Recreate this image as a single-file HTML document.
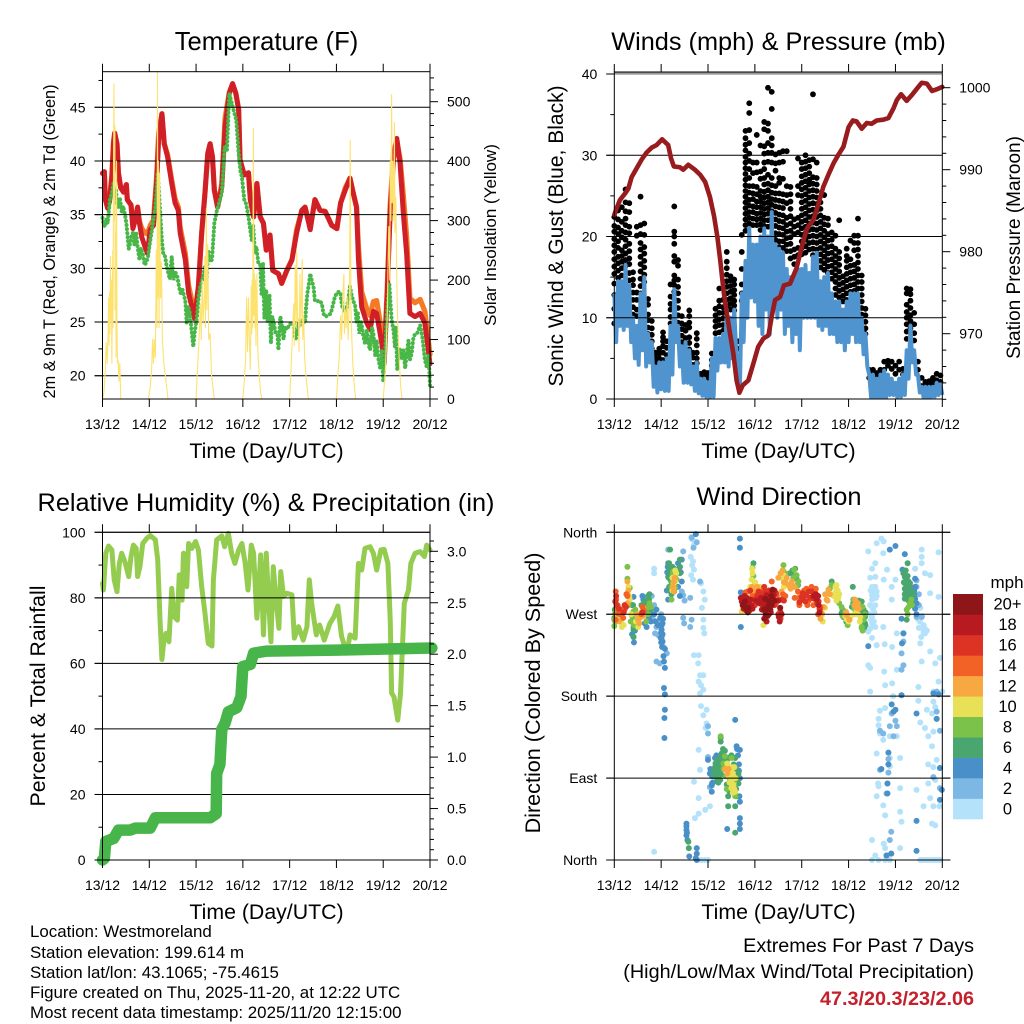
<!DOCTYPE html>
<html lang="en">
<head>
<meta charset="utf-8">
<title>Weather station charts</title>
<style>
html,body{margin:0;padding:0;background:#fff;width:1024px;height:1024px;overflow:hidden}
svg{display:block;font-family:"Liberation Sans",Arial,sans-serif;fill:#000}
text{fill:#000}
</style>
</head>
<body>
<svg id="figure" xmlns="http://www.w3.org/2000/svg" width="1024" height="1024" viewBox="0 0 1024 1024">
<rect x="0" y="0" width="1024" height="1024" fill="#fff"/>
<g id="panel-temp"></g>
<g id="panel-wind"></g>
<g id="panel-rh"></g>
<g id="panel-dir"></g>

<text x="266.5" y="50" font-size="25.6" text-anchor="middle">Temperature (F)</text>
<text x="778.5" y="50" font-size="25.3" text-anchor="middle">Winds (mph) &amp; Pressure (mb)</text>
<text x="266" y="511" font-size="25.3" text-anchor="middle">Relative Humidity (%) &amp; Precipitation (in)</text>
<text x="779" y="505" font-size="25.4" text-anchor="middle">Wind Direction</text>

<text x="266.5" y="458" font-size="21.3" text-anchor="middle">Time (Day/UTC)</text>
<text x="778.5" y="458" font-size="21.3" text-anchor="middle">Time (Day/UTC)</text>
<text x="266.5" y="919" font-size="21.3" text-anchor="middle">Time (Day/UTC)</text>
<text x="778.5" y="919" font-size="21.3" text-anchor="middle">Time (Day/UTC)</text>

<text transform="translate(55,241.5) rotate(-90)" font-size="16.3" text-anchor="middle">2m &amp; 9m T (Red, Orange) &amp; 2m Td (Green)</text>
<text transform="translate(496,235) rotate(-90)" font-size="17" text-anchor="middle">Solar Insolation (Yellow)</text>
<text transform="translate(563,236) rotate(-90)" font-size="21" text-anchor="middle">Sonic Wind &amp; Gust (Blue, Black)</text>
<text transform="translate(1020,247.5) rotate(-90)" font-size="19" text-anchor="middle">Station Pressure (Maroon)</text>
<text transform="translate(45,696) rotate(-90)" font-size="21.3" text-anchor="middle">Percent &amp; Total Rainfall</text>
<text transform="translate(540,693) rotate(-90)" font-size="21.6" text-anchor="middle">Direction (Colored By Speed)</text>

<g id="colorbar">
<text x="1007" y="588" font-size="17" text-anchor="middle">mph</text>
</g>

<g font-size="16.9">
<text x="30" y="937">Location: Westmoreland</text>
<text x="30" y="958">Station elevation: 199.614 m</text>
<text x="30" y="978">Station lat/lon: 43.1065; -75.4615</text>
<text x="30" y="998">Figure created on Thu, 2025-11-20, at 12:22 UTC</text>
<text x="30" y="1018">Most recent data timestamp: 2025/11/20 12:15:00</text>
</g>
<g font-size="19.8" text-anchor="end">
<text x="974" y="952">Extremes For Past 7 Days</text>
<text x="974" y="978">(High/Low/Max Wind/Total Precipitation)</text>
<text x="974" y="1005" font-weight="bold" style="fill:#c5202b">47.3/20.3/23/2.06</text>
</g>
</svg>
<script>
// ---- shared axis labels ----
const dayLabels = ['13/12','14/12','15/12','16/12','17/12','18/12','19/12','20/12'];
const compassLabels = ['North','East','South','West','North'];
const compassDegrees = [0,90,180,270,360];

// ---- temperature panel ----
const tempTimes = [0,.04,.06,.11,.15,.2,.235,.26,.31,.34,.39,.45,.51,.53,.61,.65,.7,.75,.79,.84,.91,.96,1.02,1.09,1.16,1.2,1.27,1.32,1.39,1.48,1.55,1.62,1.66,1.77,1.84,1.91,1.97,2.05,2.12,2.19,2.25,2.3,2.35,2.39,2.46,2.55,2.62,2.71,2.78,2.85,2.91,2.94,3.03,3.12,3.16,3.23,3.3,3.37,3.44,3.5,3.58,3.64,3.76,3.83,3.94,4.05,4.15,4.26,4.33,4.44,4.54,4.65,4.76,4.9,5.01,5.09,5.19,5.29,5.36,5.43,5.47,5.54,5.65,5.72,5.79,5.86,5.97,6.02,6.08,6.15,6.22,6.29,6.36,6.43,6.5,6.57,6.68,6.79,6.89,7];
const temp2m = [38.85,39,36.4,35.6,36.2,38.5,41.6,42.6,41.6,38.9,37.5,37.1,37.8,36.4,35.9,33.7,34.5,35.7,34.2,32.9,32,31.4,33.6,34,38.2,42,44.4,41.6,40.4,37.9,36.1,35.4,33.3,30.8,27.7,26.4,25.3,28.3,33.3,37,40.7,41.6,40.4,37.3,35.7,37.6,43.2,46.3,47.2,46.3,44.8,40.1,38.7,38.9,36.4,34.8,37.9,34.8,34.2,31.7,33.1,29.8,29.5,28.6,29.8,30.8,33.3,35.4,35.7,33.6,36.4,35.4,35.3,34,33.7,36.1,37.3,38.4,37,35.7,30.8,26.4,24.9,24.3,26,25.8,23,21.1,27,35.4,40.1,42.1,39.8,35.1,31.4,25.8,25.5,25.8,24.9,21.1];
const temp9m = [38.85,39,36.6,35.8,36.4,38.7,41.8,42.6,41.6,38.9,37.5,37.1,37.8,36.4,35.9,33.9,34.7,35.7,34.4,33.7,33.3,33.2,34,34.5,38.8,42.6,44.4,41.6,40.6,38.2,36.5,35.7,33.8,31.4,28.4,27,25.6,28.3,33.3,37,40.7,41.6,40.4,37.3,35.7,37.9,44,46.4,47.2,46.3,44.8,40.1,38.7,38.9,36.4,34.8,37.9,34.8,34.2,31.7,33.1,29.8,29.5,28.6,29.8,30.8,33.6,35.4,35.7,33.8,36.4,35.4,35.3,34,33.7,36.1,37.5,38.4,37,35.7,32,27.8,26.2,25.6,26.9,27,24,22,27.5,36,40.8,41.9,40.2,36.8,33,27.2,26.8,27.1,26,22];
const dewTimes = [0,.03,.06,.09,.11,.14,.16,.2,.235,.26,.29,.31,.34,.37,.41,.44,.48,.51,.53,.56,.59,.62,.65,.68,.72,.75,.79,.82,.86,.9,.93,.97,1,1.05,1.09,1.13,1.16,1.18,1.21,1.23,1.27,1.3,1.34,1.37,1.41,1.44,1.48,1.5,1.52,1.56,1.6,1.64,1.67,1.71,1.77,1.8,1.83,1.87,1.9,1.94,1.97,2.02,2.05,2.09,2.14,2.19,2.23,2.26,2.3,2.34,2.39,2.44,2.5,2.55,2.58,2.61,2.66,2.71,2.78,2.86,2.91,2.95,2.98,3.03,3.07,3.12,3.16,3.19,3.22,3.26,3.29,3.33,3.37,3.4,3.43,3.46,3.5,3.53,3.57,3.6,3.63,3.67,3.7,3.74,3.76,3.8,3.83,3.87,3.9,3.94,4,4.08,4.12,4.15,4.19,4.22,4.26,4.33,4.35,4.38,4.41,4.44,4.47,4.51,4.54,4.57,4.64,4.69,4.72,4.76,4.82,4.88,4.92,4.97,5.03,5.08,5.12,5.16,5.2,5.25,5.29,5.33,5.36,5.4,5.43,5.46,5.49,5.53,5.57,5.61,5.65,5.69,5.72,5.76,5.79,5.83,5.86,5.9,5.94,5.97,6,6.04,6.08,6.13,6.16,6.18,6.22,6.25,6.27,6.3,6.33,6.36,6.4,6.43,6.47,6.5,6.54,6.57,6.61,6.64,6.68,6.73,6.79,6.84,6.89,6.93,6.97,7];
const dewPoint = [34.7,34,33.9,34.6,34.2,35.5,36.4,37,37.9,36.5,37.3,35.9,35.7,36.6,35.3,35.8,35,34.2,33.3,31.8,32.3,33,33.3,32.2,33.3,32,30.8,31.9,31.4,30.3,30.5,31,32,33.4,34.6,35.7,37.5,38.9,37,35.4,32.6,31.3,31.1,30.2,29.5,29,31.1,30,28.9,29.6,29.2,28.2,27.7,28,27,24.9,26.5,25.8,24.4,22.7,24,25.5,27.2,28.3,29,30.2,29.2,31.7,30.6,30.8,34.2,35.3,36.2,37,39,41.3,41,46.3,45.1,43.8,40.7,39,38.5,36.4,36,34.8,33.5,32.6,34,31.4,32,30.5,30.4,27.6,30.5,25.3,28,25,27.5,23,25.5,24.7,24,23.8,22.4,25.5,24.9,23.4,24.6,24.3,24.8,24.9,23.4,23.6,24.9,24.6,25.2,24.9,26.3,27.7,28.5,29.5,28.9,28.3,27,26.9,27,26.7,25.8,25.5,25.6,25.8,26.5,27.4,27.8,27.8,26.5,26.1,25.9,27,28.3,27.4,27,26.5,25,25.8,23.9,25,23.8,23,24.3,22.8,22.4,24.5,23.9,21.8,23.3,21.5,20.6,22.3,19.4,22,25.8,28.6,26.5,25.2,24.2,22.7,24.5,20.5,22.5,22.4,21.5,22.4,20.7,22,23.3,21.5,22.1,23.4,23.9,24,24.7,23.5,21.5,20.8,22,19];
const solarTimes = [0,.03,.06,.08,.1,.12,.13,.14,.15,.16,.17,.18,.19,.2,.21,.22,.225,.235,.245,.255,.265,.27,.28,.29,.3,.31,.32,.335,.35,.37,.39,.98,1.02,1.05,1.07,1.09,1.11,1.13,1.15,1.165,1.175,1.185,1.195,1.21,1.22,1.24,1.26,1.28,1.31,1.35,1.4,2,2.03,2.06,2.09,2.11,2.13,2.15,2.17,2.19,2.2,2.22,2.23,2.25,2.27,2.3,2.33,2.36,2.39,3,3.03,3.06,3.08,3.1,3.12,3.14,3.16,3.18,3.19,3.2,3.21,3.225,3.235,3.25,3.26,3.27,3.28,3.3,3.32,3.35,3.38,3.41,4,4.03,4.06,4.09,4.1,4.12,4.14,4.15,4.17,4.19,4.2,4.22,4.24,4.27,4.28,4.3,4.32,4.36,4.4,5,5.03,5.06,5.09,5.11,5.14,5.16,5.17,5.19,5.21,5.23,5.25,5.28,5.295,5.31,5.33,5.35,5.38,5.41,6,6.03,6.05,6.07,6.09,6.1,6.12,6.14,6.15,6.165,6.18,6.19,6.205,6.22,6.24,6.25,6.27,6.29,6.31,6.34,6.37,6.4,7];
const solarValues = [0,10,48,95,60,110,170,90,180,110,240,130,200,60,160,250,120,380,530,300,460,150,280,70,400,120,60,65,30,60,0,0,20,50,100,60,100,70,250,120,550,170,400,120,380,170,230,100,60,35,0,0,50,95,160,100,200,130,160,240,120,320,150,260,100,110,40,20,0,0,30,70,170,80,170,100,50,190,110,200,120,455,140,210,120,200,90,210,80,40,10,0,0,50,110,160,90,225,120,250,130,135,80,210,120,235,100,140,70,30,0,0,40,70,140,100,180,210,110,150,120,170,100,180,435,150,100,60,25,0,0,30,55,100,150,210,290,200,400,300,512,330,400,300,465,280,340,200,130,70,25,0,0];
const tempMajorTicks = [20,25,30,35,40,45];
const tempMinorTicks = [22.5,27.5,32.5,37.5,42.5,47.5];
const solarMajorTicks = [0,100,200,300,400,500];
const solarMinorTicks = [20,40,60,80,120,140,160,180,220,240,260,280,320,340,360,380,420,440,460,480,520,540];

// ---- wind panel ----
const windTimes = [0,.08,.16,.24,.32,.4,.48,.56,.64,.72,.8,.88,.96,1.04,1.12,1.2,1.28,1.36,1.44,1.52,1.6,1.68,1.76,1.84,1.92,2,2.08,2.16,2.24,2.32,2.4,2.48,2.56,2.64,2.72,2.8,2.88,2.96,3.04,3.12,3.2,3.28,3.36,3.44,3.52,3.6,3.68,3.76,3.84,3.92,4,4.08,4.16,4.24,4.32,4.4,4.48,4.56,4.64,4.72,4.8,4.88,4.96,5.04,5.12,5.2,5.28,5.36,5.44,5.52,5.6,5.68,5.76,5.84,5.92,6,6.08,6.16,6.24,6.32,6.4,6.48,6.56,6.64,6.72,6.8,6.88,6.96];
const windPeak = [13,14.5,14.5,16.5,14,10,9,13,15,8,7,4,4.5,4.5,5,9,13.5,9,6.5,7,6,4,4.5,2.5,2.5,2,5,7.5,7.5,8,11,10,11,4,13,17,21,19,19,20,21,20,23,19,18.5,18,16,15,15,16,16,16.5,15.5,17.5,18,14.5,15,15.5,13,12,12,11,12,13,13,13,10,8,3,3,2.5,3,3.5,3,2.5,2,2.5,3,6,9,6,3,1.5,1.5,1.5,1.5,2,1.8];
const windTrough = [7,9,8.5,9,7,5,4.2,6,4,4.5,1.5,.8,1.2,1,1,3,7,4,2,2,1.8,1,.7,.4,.3,.2,.3,3.5,4.5,4.5,4,5,6,1,7,10,12.5,12,9,8,11,8,11,10,11,8,9,7,8,6,10,10,10,10,9,8.5,9,8,8,7,7,6,7,8,7,7,5.5,4,.2,.2,.2,.2,.2,.5,.5,.2,.3,.5,2.5,4.5,3,.8,.2,.2,.2,.3,.5,.5];
const gustColumns = [
[22.4,21.3,20.6,19.7,18.9,18.1,17.2,16.3,15.4,14.2,12.8,11.1,9.3],
[23.2,22.1,21.1,20.3,19.4,18.6,17.5,16.7,15.8,14.9],
[23.6,21.8,20.7,19.9,18.3,17.6,16.9,16.1,15.2,14.3],
[25.8,24.2,23.1,22.2,21.4,20.5,19.6,18.8,17.9,17.1,16.4],
[24.1,23,21.2,20.4,19.1,18.2,17.3,16.6,15.5,14.6],
[15.6,14.7,14,13.1,12.2,11.3,10.4],
[21.2,20.1,13.1,12.2,11,10.2],
[24.9,21.4,20.3,19.2,18.4,17.5,16.6,15.7,14.8,13.9,13,12.1],
[21.6,20.2,18.7,17.9,17,16.2,15.3,14.4],
[12.3,11.6,10.4,9.7,8.8,8],
[9.6,8.7,7.9,7.1,6.2,5.4],
[5.7,5.1,4.6,4,3.2],
[6.2,5.6,5,4.4,3.6],
[8.2,7.6,7.1,6.5,5.7,4.8],
[7.1,6.3,5.4,4.6],
[14.1,12.6,11.7,11,10.1,9.3],
[23.7,20.6,20,19.1,17.6,16.9,15.2,14.6,14,13.2,12.3,11.4],
[17.1,16.4,14.7,13.8,13,12.1,11.2,10.3,9.4],
[10.2,9.3,8.6,7.8,7,6.4],
[9.1,8.4,7.5,6.8],
[10.9,10.2,9.4,8.8,7.6,6.9,6.1],
[5.7,5.1,4.2],
[8.1,7.4,6.6,5.7,5,4.4],
[3.1,2.7],
[3.3,2.9],
[3.2,2.6],
[5.6,4.8,4.1,3.2],
[11.1,10.3,9.6,8.9,8.1],
[13.6,12.1,11.4,10.6,9.8,9.1,8.2],
[12.2,11.3,10.6,9.9,9.1,8.4],
[18.1,16.9,16.1,15.3,14.5,13.8,13,12.2,11.4],
[15.1,14.6,13.9,13.2,12.4,11.7,11],
[14.7,14.1,13.4,12.8,12.1,11.5,10.9],
[7.1,6.2,5],
[20.2,18.1,16,14.1,13,12.1],
[33,32.1,31.3,30.6,29.8,29.1,28.4,27.7,27,26.3,25.6,24.9,24.2,23.5,22.8,22.1,21.4,20.7],
[36.4,35.2,33.1,31.5,30.2,29.3,28.3,27.2,26.2,25.4,24.5,23.8,23,22.3,21.6],
[29.1,27.8,26.2,25.3,24.6,23.7,23,22.2,21.4],
[32.5,29.1,27.9,26.1,25.2,24.3,23.6,22.8,22.1,21.4],
[31.2,28,27.1,25.6,24.9,24.3,23.6,22.9,22.2,21.5,20.8],
[34.1,33.2,31.1,30.2,29.1,28.3,27.2,26.4,25.5,24.8,24.1,23.4,22.7,22,21.3],
[38.3,33.9,33,31.5,30.3,29.2,27.6,26.5,25.7,24.9,24.2,23.5,22.8,22,21.2],
[37.8,35.7,32.1,31.2,30.3,29.1,27.2,26.3,25.4,24.6,23.9,23.1,22.2,21.4],
[30.1,29,28.1,26.2,25.3,24.5,23.7,22.9,22.1,21.3,20.4,19.6],
[30.3,29.1,27.2,26.6,25.3,24.4,23.6,22.7,21.9,21.1,20.3,19.4,18.7],
[30.5,29.2,27.1,25.2,24.3,23.5,22.6,21.8,21,20.2,19.4,18.6],
[30.5,26.2,25.1,24.1,22.3,21.4,20.6,19.8,19,18.2],
[26.1,25.2,24.3,23.4,22.5,21.6,20.7,19.9,19.1,18.2,17.3],
[22.1,21.2,20.3,18.4,17.5,16.6],
[29.6,26.2,25.1,22.3,21.4,20.5,18.6,17.7],
[29.1,28.3,27.4,26.6,25.8,25,24.2,23.4,22.6,21.8,21,20.2,19.4,18.6,17.8],
[30,29.2,28.4,27.6,26.8,26,25.2,24.4,23.6,22.8,22,21.2,20.4,19.6,18.8,18],
[29.4,28.6,27.8,27,26.4,25.6,24.8,24,23.2,22.4,21.6,20.8,20,19.2,18.4],
[37.5,29.5,27.3,26.5,25.7,24.9,24.1,23.3,22.5,21.7,20.9,20.1,19.3,18.5,17.7],
[29.1,27.2,26.4,25.6,24.8,24,23.2,22.4,21.6,20.8,20,19.2,18.4],
[24.2,23.4,22.6,21.8,21,20.2,19.4,18.6,17.8,17,16.2],
[25.1,22.3,21.5,20.7,19.9,19.1,18.3,17.5,16.7,15.9],
[22.2,21.4,20.3,19.5,18.7,17.9,17.1,16.3,15.5],
[20.5,19.6,18.8,18,17.2,16.4,15.6,14.8],
[20.1,18.5,17.6,16.8,16,15.2,14.4,13.6,12.8],
[22,18.1,17.3,16.5,15.7,14.9,14.1,13.3,12.5],
[15.1,14.3,13.5,12.7,12],
[18.5,17.6,17,16.2,15.4,14.6,13.8,13,12.2],
[19.5,17.2,16.4,15.6,14.8,14,13.2],
[20.1,19.2,18.3,16.5,15.7,14.9,14.1,13.3],
[22.2,20.1,19.2,18.4,17.6,16.8,16,15.2,14.4,13.6],
[15.2,14.4,13.6,12.8,12,11.2,10.4],
[11.1,10.3,9.5,8.7,8],
[3.6,2.6],
[3.1,3.6],
[3.2,2.6],
[3.6,3],
[4.6,3.6],
[4.7,4.1],
[4.6,3.7],
[4.1,3.1],
[4.6,3.6],
[3.7,3],
[13.6,13,11.6,10.7,10,9.2,8.3,7.4],
[13.5,12.9,12.1,11.2,10.3,9.6,8.7],
[10.6,9.2,8.1,7.2],
[4.6,3.6],
[2.6,1.6],
[2.1,1.8],
[2.2,1.7],
[2.6,2],
[3.1,2.3],
[2.9,2.1]
];
const pressureTimes = [0,.05,.12,.23,.3,.37,.48,.58,.69,.8,.9,1.02,1.15,1.21,1.27,1.4,1.47,1.58,1.72,1.83,1.94,2.04,2.13,2.2,2.26,2.33,2.4,2.47,2.54,2.61,2.67,2.74,2.86,2.97,3.07,3.18,3.29,3.36,3.43,3.54,3.62,3.75,3.89,4,4.11,4.25,4.36,4.46,4.57,4.68,4.78,4.89,5,5.09,5.17,5.28,5.39,5.49,5.6,5.74,5.85,5.96,6.03,6.12,6.24,6.35,6.46,6.56,6.67,6.78,6.88,7];
const pressureValues = [984.5,985.3,986.3,987.1,987.7,989.1,990.2,991.2,992.1,992.7,993,993.7,993,991.4,990.4,990.3,990,990.6,990,989.4,988.5,986.7,984.3,981.8,979,975.3,972.5,970,967.6,964.3,962.8,963.7,964.3,966.4,968.4,969.4,969.8,972.1,974.1,974.5,975.9,976.1,978,980.6,982.8,983.9,985.9,987.9,989.4,990.8,991.8,992.8,995.2,996,995.9,995,995.7,995.6,996,996.1,996.3,997.5,998.5,999.2,998.4,999.1,999.9,1000.6,1000.5,999.6,999.8,1000.1];
const windMajorTicks = [0,10,20,30,40];
const windMinorTicks = [5,15,25,35];
const pressureMajorTicks = [970,980,990,1000];
const pressureMinorTicks = [962,964,966,968,972,974,976,978,982,984,986,988,992,994,996,998];

// ---- humidity & rainfall panel ----
const humidityTimes = [0,.02,.07,.13,.2,.25,.31,.36,.41,.48,.56,.61,.66,.72,.75,.8,.86,.95,1.02,1.13,1.18,1.23,1.27,1.32,1.36,1.42,1.48,1.53,1.6,1.64,1.7,1.73,1.8,1.84,1.91,1.99,2.05,2.12,2.19,2.26,2.34,2.37,2.44,2.55,2.61,2.69,2.76,2.83,2.91,2.98,3.05,3.11,3.18,3.23,3.3,3.33,3.38,3.44,3.5,3.55,3.6,3.65,3.71,3.77,3.81,3.87,3.94,4.05,4.1,4.19,4.29,4.37,4.42,4.47,4.57,4.64,4.74,4.86,4.95,5.03,5.11,5.22,5.29,5.4,5.47,5.54,5.61,5.72,5.79,5.86,5.95,6.02,6.1,6.15,6.18,6.23,6.31,6.37,6.45,6.54,6.59,6.68,6.79,6.88,6.93,7];
const humidityValues = [84.4,82.4,93.6,95.8,94.6,85.5,81.9,90.5,93.6,91,86.5,92.6,96.1,95.1,86.5,89.5,96.6,98.2,99,97.7,91.6,73.2,61.2,68.2,69.2,66.6,82.9,74.3,73.2,87,79.3,93.6,83.4,96.6,95.1,97.2,94.6,83.4,75.3,66.1,65.3,85.5,97.7,98.9,95.6,99.7,93.6,90.5,94.6,96.6,90.5,82.4,96.1,93.6,73.8,80.4,93.1,68.7,93.6,79.3,66.6,89.5,79.3,70.7,88,80.4,81.4,80.9,67.7,71.2,67.1,71.2,85.5,78.3,68.7,71.7,67.1,72.2,74.3,77.5,68.2,63.1,68.7,67.7,90.5,88.5,95.1,95.6,93.6,88.5,94.6,94.8,90.5,73.2,50.9,49.8,42.7,50.9,78.3,82.4,90.5,93.6,94.1,92.6,96.1,94.6];
const rainTimes = [0,.04,.07,.24,.34,.59,.7,1.02,1.13,2.3,2.43,2.44,2.51,2.55,2.62,2.69,2.87,2.96,3,3.16,3.23,3.51,5,7.04];
const rainValues = [0,.016,.18,.21,.29,.29,.31,.31,.41,.41,.45,.84,.93,1.27,1.33,1.44,1.48,1.59,1.88,1.9,2.01,2.03,2.04,2.06];
const humidityMajorTicks = [0,20,40,60,80,100];
const humidityMinorTicks = [10,30,50,70,90];
const rainMajorTicks = [0,.5,1,1.5,2,2.5,3];
const rainMinorTicks = [.1,.2,.3,.4,.6,.7,.8,.9,1.1,1.2,1.3,1.4,1.6,1.7,1.8,1.9,2.1,2.2,2.3,2.4,2.6,2.7,2.8,2.9,3.1];

// ---- wind-direction panel: [day, degrees] readings per speed class ----
const speedLabels = ['0','2','4','6','8','10','12','14','16','18','20+'];
const directionSpeed0 = [[.85,320],[.85,315],[.85,9],[1.65,355],[1.67,352],[1.7,346],[1.63,333],[1.68,328],[1.66,324],[1.7,319],[1.64,313],[1.68,308],[1.85,304],[1.9,295],[1.93,286],[1.87,277],[1.9,264],[1.9,255],[1.92,249],[1.7,225],[1.8,225],[1.79,216],[1.83,203],[1.9,203],[1.8,196],[1.85,192],[1.83,183],[1.9,187],[1.85,169],[1.97,165],[1.9,159],[1.97,150],[1.95,145],[1.8,121],[2,113],[1.83,99],[1.7,86],[1.8,68],[2.04,59],[1.94,55],[1.8,51],[1.72,46],[1.85,0],[1.93,0],[2,0],[5.6,348],[5.7,353],[5.75,350],[5.42,339],[5.74,337],[5.57,326],[5.5,320],[5.82,319],[5.46,310],[5.57,311],[5.75,308],[5.53,299],[5.6,295],[5.5,291],[5.92,300],[6,308],[5.92,286],[5.5,286],[5.57,280],[5.54,296],[5.58,288],[5.5,278],[5.5,267],[5.55,272],[5.5,260],[5.57,256],[5.42,251],[5.74,256],[6.03,249],[5.5,244],[5.6,236],[5.77,237],[5.93,234],[5.42,214],[5.46,211],[5.76,207],[6.03,209],[5.78,192],[5.93,194],[5.46,185],[5.95,180],[5.78,167],[5.67,164],[5.64,155],[5.64,148],[5.67,139],[5.74,132],[5.88,136],[6.03,136],[5.6,117],[5.88,112],[6.1,112],[5.88,103],[5.63,84],[5.64,81],[6.1,79],[5.6,70],[5.74,60],[6.13,42],[5.78,49],[6.1,53],[5.5,22],[5.75,18],[5.78,13],[6.1,13],[5.57,5],[5.5,0],[5.64,0],[5.78,0],[5.88,0],[6.56,341],[6.56,333],[6.56,326],[6.63,315],[6.74,313],[6.92,338],[6.42,320],[6.74,293],[6.92,289],[6.53,277],[6.49,264],[6.56,255],[6.63,249],[6.53,238],[6.6,258],[6.67,252],[6.74,229],[6.95,222],[6.56,218],[6.85,216],[6.92,196],[6.49,190],[6.81,185],[7,185],[6.49,175],[6.81,174],[6.85,168],[6.53,151],[6.67,165],[6.78,161],[6.63,145],[6.81,141],[6.7,136],[6.78,125],[6.7,105],[6.88,110],[6.81,102],[6.7,84],[6.85,88],[6.74,68],[6.81,59],[6.6,59],[6.45,77],[6.94,59],[6.78,40],[6.85,38],[6.53,0],[6.58,0],[6.63,0],[6.68,0],[6.74,0],[6.8,0],[6.85,0],[6.9,0],[6.95,0],[5.47,296],[5.5,300],[5.53,292],[5.57,300],[5.6,290],[5.46,280],[5.52,276],[5.45,270],[5.48,264],[5.52,258],[5.46,254],[5.54,262],[6.5,255],[6.55,245],[6.6,250],[6.62,255],[6.52,262],[6.57,268]];
const directionSpeed2 = [[.83,264],[.9,256],[.87,249],[.97,264],[1.01,242],[.94,247],[1.05,234],[1.12,227],[.9,218],[.97,216],[.85,280],[.8,290],[1,270],[1.47,266],[1.49,260],[1.62,256],[1.65,264],[1.62,288],[1.47,291],[1.44,295],[1.5,285],[1.47,339],[1.15,341],[1.69,343],[1.65,354],[1.76,349],[1.83,306],[2,147],[2,139],[2,113],[2.08,84],[2.04,80],[2.08,92],[5.67,142],[5.74,139],[5.88,147],[5.96,136],[6.03,147],[5.85,111],[5.85,96],[5.83,84],[5.81,73],[5.67,99],[5.92,161],[6,153],[5.88,22],[5.91,31],[5.91,7],[5.81,5],[6.88,163],[6.88,155],[6.95,142],[6.95,101],[6.95,79],[6.88,185],[6.81,91],[6.45,307],[6.45,300],[6.56,267],[6.45,267],[6.17,240],[6.13,227],[6.17,214],[6.13,209],[6.17,249],[6.13,181],[6.5,280],[6.5,292]];
const directionSpeed4 = [[.41,289],[.44,267],[.41,256],[.41,245],[.42,239],[.62,286],[.65,260],[.69,256],[.76,269],[.9,275],[1.03,260],[1.01,253],[1.01,245],[1,239],[1.04,265],[1.08,211],[1.06,189],[1.08,182],[1.08,165],[1.07,156],[1.07,134],[2.7,256],[2.7,294],[2.68,353],[2.68,343],[1.15,326],[1.15,311],[1.15,286],[1.44,330],[1.4,322],[1.22,302],[1.74,358],[1.74,2],[1.76,13],[1.76,7],[1.6,4],[1.54,40],[1.54,37],[1.54,33],[1.55,30],[1.54,27],[1.56,22],[1.76,0],[2.15,112],[2.04,95],[2.08,75],[2,110],[2.58,154],[2.61,125],[2.68,121],[2.68,46],[2.68,40],[2.68,34],[2.41,34],[2.68,64],[5.88,341],[6,345],[6.2,336],[5.42,235],[6.15,319],[6.42,309],[6.42,287],[6.45,282],[5.7,100],[5.85,118],[5.85,105],[5.83,84],[5.83,73],[5.81,5],[5.91,7],[6.45,10],[6.45,43],[5.92,171],[5.96,163],[6.81,183],[6.88,155],[6.92,182],[6.95,101],[6.99,77],[6.95,66],[6.45,161],[6.17,249],[6.14,238],[6.13,181],[6,165],[.38,280],[.4,272],[.42,262],[.44,252],[.38,248],[.6,290],[.63,280],[.67,272],[.72,278],[.74,266],[.78,262],[.85,270],[.88,262],[.93,258],[.98,266],[1.01,258],[1,250],[1.03,248],[1.03,240],[.99,244],[1.02,234],[1.05,224],[1.06,218],[1.08,232],[1.13,316],[1.14,322],[1.18,318],[1.2,300],[1.12,296],[1.36,326],[1.38,318],[1.42,316],[1.44,306],[1.36,300],[1.4,290],[2.1,92],[2.1,85],[2.05,100],[2.18,115],[2.08,82],[2.62,122],[2.64,115],[2.66,105],[2.66,98],[2.68,90],[2.67,70],[6.42,300],[6.4,296],[6.4,292],[6.36,285],[6.42,276],[6.45,270],[6.13,265]];
const directionSpeed6 = [[.75,292],[.65,284],[.62,273],[.41,264],[.41,253],[.41,245],[.01,275],[0,266],[.7,270],[1.19,341],[1.17,326],[1.19,319],[1.2,308],[1.22,313],[1.26,300],[1.16,310],[1.24,322],[1.4,330],[1.4,322],[1.4,315],[1.58,20],[1.59,13],[2.15,102],[2.18,98],[2.11,96],[2.22,105],[2.26,112],[2.29,117],[2.32,122],[2.36,112],[2.43,112],[2.58,112],[2.18,92],[2.26,88],[2.65,95],[2.43,70],[2.43,59],[2.58,59],[2.58,30],[2.27,134],[2.27,130],[2.61,70],[2.4,83],[2.2,88],[2.28,100],[2.2,110],[2.97,326],[3.86,320],[3.75,315],[3.89,309],[4.64,306],[5.09,300],[5.28,284],[5.32,275],[5.35,267],[5.35,260],[5.28,255],[4.89,267],[4.85,271],[5.07,278],[4.64,302],[6.26,326],[6.2,311],[6.24,308],[6.27,302],[6.31,298],[6.2,298],[6.35,295],[6.38,291],[6.2,287],[6.24,264],[6.31,291],[6.27,295],[6.2,304],[6.31,304],[6.24,291],[6.28,285],[3.19,275],[.02,262],[.4,280],[.42,270],[.38,262],[.43,255],[.48,265],[.58,280],[.66,278],[.72,290],[.7,282],[.74,286],[.78,275],[1.18,315],[1.2,322],[1.22,305],[1.25,310],[1.28,320],[1.18,296],[1.22,292],[1.17,300],[2.14,100],[2.16,106],[2.2,102],[2.24,96],[2.24,108],[2.3,108],[2.34,104],[2.2,94],[2.14,92],[2.22,85],[2.28,94],[2.32,116],[2.36,120],[2.4,108],[2.5,115],[2.55,105],[2.6,100],[2.62,90],[2.65,84],[2.6,78],[2.45,76],[4.87,275],[4.92,268],[4.95,262],[5.1,282],[5.15,280],[5.22,285],[5.25,274],[5.3,268],[5.33,255],[5.36,272],[5.36,258],[5.3,260],[3.8,318],[3.85,312],[3.92,302],[6.17,315],[6.22,318],[6.18,305],[6.22,296],[6.25,300],[6.28,292],[6.33,287],[6.36,282],[6.26,312],[6.28,306],[6.32,300],[6.2,292]];
const directionSpeed8 = [[.28,322],[.28,309],[.33,299],[0,257],[0,264],[.41,273],[.44,267],[.75,282],[1.3,313],[1.3,299],[1.22,286],[1.26,317],[2.27,136],[2.36,114],[2.33,106],[2.5,112],[2.58,70],[2.38,92],[2.95,321],[3.61,324],[3.84,319],[3.89,313],[3.93,306],[4.64,302],[4.85,278],[4.93,273],[5,264],[5.1,286],[5.28,278],[5.28,256],[5.32,264],[6.35,280],[6.24,275],[6.31,282],[.02,272],[.03,262],[.1,268],[.3,280],[.38,268],[.42,258],[.35,262],[.45,275],[.7,277],[.72,270],[.78,278],[.68,262],[1.22,300],[1.25,315],[1.28,295],[1.3,306],[1.33,308],[1.24,305],[2.33,100],[2.38,105],[2.43,100],[2.5,100],[2.56,85],[2.6,90],[2.47,88],[2.4,78],[3,305],[2.97,312],[3.6,318],[3.65,315],[3.82,310],[3.9,302],[4.6,298],[4.8,282],[4.87,268],[4.98,258],[5.03,268],[5.12,276],[5.22,280],[5.3,278],[5.35,270],[5.3,252],[6.28,278],[6.34,286],[6.26,270]];
const directionSpeed10 = [[.3,300],[.12,267],[.16,256],[.51,256],[.33,286],[1.26,309],[1.27,304],[1.26,299],[1.32,315],[2.5,102],[2.56,102],[2.44,92],[2.5,88],[2.54,83],[2.5,79],[2.41,106],[2.58,75],[2.52,96],[2.95,315],[2.93,308],[3.18,258],[3.11,300],[3.61,313],[3.61,308],[4.75,297],[4.78,288],[4.71,293],[4.96,264],[4.43,269],[4.5,277],[5.17,275],[5.25,267],[2.72,273],[4.76,292],[4.74,302],[.08,270],[.14,262],[.2,258],[.32,290],[.36,270],[.46,262],[.5,268],[1.24,310],[1.3,306],[1.24,296],[1.3,318],[2.46,98],[2.48,92],[2.54,92],[2.5,95],[2.58,90],[2.46,85],[2.53,74],[2.56,78],[2.94,320],[2.9,300],[3,305],[3.05,298],[3.58,312],[3.65,308],[3.62,300],[3.75,303],[4.72,300],[4.77,296],[4.8,292],[4.74,285],[4.68,290],[4.45,262],[4.41,272],[4.93,268],[5,262],[5.05,268],[5.13,270],[5.2,270],[5.24,262],[2.75,278]];
const directionSpeed12 = [[.28,306],[.26,292],[.62,277],[.55,266],[.12,275],[.18,266],[.51,264],[1.27,306],[1.27,295],[2.36,100],[3.59,318],[3.79,306],[3.72,302],[3.57,295],[2.97,297],[3,291],[3.18,299],[4.57,297],[4.53,286],[3.96,293],[4.43,271],[5.14,286],[5.17,277],[4.96,269],[3.15,280],[3.65,305],[3.05,300],[3.3,290],[3.82,300],[.05,270],[.1,262],[.15,272],[.3,296],[.28,282],[.48,270],[.53,260],[.58,272],[.62,268],[1.25,300],[1.29,310],[2.41,95],[2.44,100],[2.9,295],[2.94,300],[3.02,296],[3.08,286],[3.12,292],[3.5,310],[3.55,315],[3.62,305],[3.68,310],[3.76,298],[3.85,300],[3.92,288],[3.98,285],[4.5,292],[4.55,285],[4.6,292],[4.47,278],[4.4,265],[4.95,272],[5.02,264],[5.12,280],[5.2,282],[5.22,276]];
const directionSpeed14 = [[.04,286],[.05,277],[.08,271],[.19,266],[.6,278],[3.36,306],[3.54,273],[3.96,288],[4.1,298],[4.21,300],[4.39,275],[3.92,295],[.26,292],[2.8,294],[3.47,290],[3.6,292],[4.15,285],[4.3,298],[.03,295],[.07,280],[.12,270],[.15,275],[.22,275],[.28,290],[.58,270],[.63,274],[.03,264],[2.85,295],[2.95,290],[3.05,292],[3.15,295],[3.3,285],[3.45,282],[3.55,265],[3.65,290],[3.85,288],[3.95,280],[4.05,296],[4.12,280],[4.25,280],[4.35,270],[4.4,278],[4.28,295]];
const directionSpeed16 = [[.02,284],[.05,280],[.25,278],[3.22,295],[3.4,286],[2.97,286],[3.57,286],[4,289],[4.1,291],[4.21,295],[4.32,291],[3.54,266],[3.5,270],[4.36,284],[4.04,286],[3.11,286],[3.15,292],[3.3,296],[4.15,295],[4.26,287],[3.05,290],[3.45,293],[.04,290],[.1,276],[.2,272],[.22,280],[.6,272],[2.9,296],[3,280],[3.08,295],[3.2,300],[3.35,290],[3.42,280],[3.55,272],[3.62,285],[3.95,283],[4.02,293],[4.08,284],[4.18,288],[4.28,292],[4.38,276],[4.33,282]];
const directionSpeed18 = [[2.75,286],[2.83,282],[2.86,278],[2.9,286],[2.83,288],[3.1,282],[3.25,291],[3.36,295],[3.25,282],[3.32,280],[3.54,277],[4.32,286],[4.36,280],[3.22,273],[3.51,267],[3.4,291],[2.79,280],[2.72,284],[2.88,274],[3.3,270],[3.18,278],[2.7,288],[2.76,276],[2.78,290],[2.82,274],[2.87,283],[2.92,280],[2.95,276],[3.02,285],[3.08,283],[3.13,288],[3.15,275],[3.2,284],[3.25,262],[3.34,272],[3.42,296],[3.5,285],[3.53,262],[3.57,270],[4.3,292],[4.35,290],[4.38,272],[4.25,290]];
const directionSpeed20 = [[2.79,284],[2.86,277],[3.22,287],[3.25,275],[3.29,279],[3.36,280],[3.38,297],[3.23,269],[3.54,277],[2.74,280],[2.8,277],[2.85,272],[3.2,275],[3.27,268],[3.3,285],[3.33,275],[3.35,290],[3.42,285],[3.2,265]];
const directionBySpeed = [directionSpeed0,directionSpeed2,directionSpeed4,directionSpeed6,directionSpeed8,directionSpeed10,directionSpeed12,directionSpeed14,directionSpeed16,directionSpeed18,directionSpeed20];

// ---- drawing ----
const SVGNS = 'http://www.w3.org/2000/svg';
const speedColors = ['#b3e2fa','#7db8e4','#4a90c8','#4aa66f','#7ac24a','#e8e157','#f8a840','#f26226','#dc3325','#b81a21','#8e1518'];
const INK = '#000';

function make(parent, tag, attrs, text) {
  const el = document.createElementNS(SVGNS, tag);
  for (const k in attrs) el.setAttribute(k, attrs[k]);
  if (text !== undefined) el.textContent = text;
  parent.appendChild(el);
  return el;
}
function linear(d0, d1, r0, r1) {
  return v => r0 + (v - d0) * (r1 - r0) / (d1 - d0);
}
function linePath(xs, ys, xScale, yScale) {
  const n = Math.min(xs.length, ys.length);
  let d = '';
  for (let i = 0; i < n; i++) d += (i ? 'L' : 'M') + xScale(xs[i]).toFixed(2) + ' ' + yScale(ys[i]).toFixed(2);
  return d;
}
function drawGrid(g, box, ticks, scale, extendRight) {
  const grid = make(g, 'g', {stroke: INK, 'stroke-width': 1});
  
  
  ticks.forEach(v => {
    const y = scale(v);
    const line = make(grid, 'line', {x1: box.x0 - 8, x2: box.x1 + (extendRight ? 8 : 0), y1: y, y2: y});
    
    
  });
}
function drawFrame(g, box) {
  const frame = make(g, 'rect', {x: box.x0, y: box.y0, width: box.x1 - box.x0, height: box.y1 - box.y0, fill: 'none', stroke: INK, 'stroke-width': 1});
  
  
}
function drawTimeAxis(g, box, xScale) {
  const axis = make(g, 'g', {});
  
  
  dayLabels.forEach((lab, i) => {
    const x = xScale(i);
    const ticks = make(axis, 'path', {d: 'M' + x + ' ' + (box.y0 - 8) + 'V' + box.y0 + 'M' + x + ' ' + box.y1 + 'V' + (box.y1 + 8), stroke: INK, 'stroke-width': 1, fill: 'none'});
    
    
    const t = make(axis, 'text', {x: x, y: box.y1 + 30, 'font-size': 14, 'text-anchor': 'middle'}, lab);
    
    
  });
}
function drawValueTicks(g, side, xEdge, scale, majors, minors, labels, name) {
  const dir = side === 'left' ? -1 : 1;
  const axis = make(g, 'g', {stroke: INK, 'stroke-width': 1});
  
  
  minors.forEach(v => {
    const y = scale(v);
    const m = make(axis, 'line', {x1: xEdge, x2: xEdge + dir * 4, y1: y, y2: y});
    
    
  });
  majors.forEach((v, i) => {
    const y = scale(v);
    const m = make(axis, 'line', {x1: xEdge, x2: xEdge + dir * 8, y1: y, y2: y});
    
    
    if (labels) {
      const t = make(axis, 'text', {x: xEdge + dir * 17, y: y + 5, 'font-size': 14, stroke: 'none', 'text-anchor': side === 'left' ? 'end' : 'start'}, labels[i]);
      
      
    }
  });
}

// Temperature panel
(function () {
  const g = document.getElementById('panel-temp');
  const box = {x0: 102.5, x1: 430, y0: 71.7, y1: 399};
  const x = linear(0, 7, box.x0, box.x1);
  const yT = linear(20, 45, 375.7, 107.3);
  const yS = linear(0, 500, 399, 101.7);
  const orange = make(g, 'path', {d: linePath(tempTimes, temp9m, x, yT), fill: 'none', stroke: '#f47a25', 'stroke-width': 5.2, 'stroke-linejoin': 'round', 'stroke-linecap': 'round'});
  
  
  const red = make(g, 'path', {d: linePath(tempTimes, temp2m, x, yT), fill: 'none', stroke: '#d01f26', 'stroke-width': 5, 'stroke-linejoin': 'round', 'stroke-linecap': 'round'});
  
  
  const dew = make(g, 'path', {d: linePath(dewTimes, dewPoint, x, yT), fill: 'none', stroke: '#49b648', 'stroke-width': 4, 'stroke-linecap': 'round', 'stroke-dasharray': '0.1 4'});
  
  
  drawGrid(g, box, tempMajorTicks, yT, false);
  const solar = make(g, 'path', {d: linePath(solarTimes, solarValues, x, yS), fill: 'none', stroke: '#fde270', 'stroke-width': 1.1, 'stroke-linejoin': 'round'});
  
  
  drawFrame(g, box);
  drawTimeAxis(g, box, x);
  drawValueTicks(g, 'left', box.x0, yT, tempMajorTicks, tempMinorTicks, tempMajorTicks.map(String), 'temperature-axis');
  drawValueTicks(g, 'right', box.x1, yS, solarMajorTicks, solarMinorTicks, solarMajorTicks.map(String), 'insolation-axis');
})();

// Wind panel
(function () {
  const g = document.getElementById('panel-wind');
  const box = {x0: 614.3, x1: 942.3, y0: 72, y1: 399};
  const x = linear(0, 7, box.x0, box.x1);
  const yW = linear(0, 40, 399, 74);
  const yP = linear(970, 1000, 333.7, 87.7);
  const gusts = make(g, 'g', {fill: '#000'});
  
  
  gustColumns.forEach((col, i) => {
    col.forEach(v => {
      const c = make(gusts, 'circle', {cx: x(windTimes[i]).toFixed(2), cy: yW(v).toFixed(2), r: 2.9});
      
      
    });
  });
  let d = '';
  windTimes.forEach((t, i) => {
    d += (i ? 'L' : 'M') + x(t).toFixed(2) + ' ' + yW(windPeak[i]).toFixed(2);
    d += 'L' + x(Math.min(7, t + 0.04)).toFixed(2) + ' ' + yW(windTrough[i]).toFixed(2);
  });
  const wind = make(g, 'path', {d: d, fill: 'none', stroke: '#4f94cf', 'stroke-width': 4, 'stroke-linejoin': 'round'});
  
  
  drawGrid(g, box, windMajorTicks, yW, false);
  const topBand = make(g, 'rect', {x: box.x0, y: 72, width: box.x1 - box.x0, height: 2.7, fill: '#999'});
  
  
  const pressure = make(g, 'path', {d: linePath(pressureTimes, pressureValues, x, yP), fill: 'none', stroke: '#981b1e', 'stroke-width': 4.6, 'stroke-linejoin': 'round', 'stroke-linecap': 'round'});
  
  
  drawFrame(g, box);
  drawTimeAxis(g, box, x);
  drawValueTicks(g, 'left', box.x0, yW, windMajorTicks, windMinorTicks, windMajorTicks.map(String), 'wind-axis');
  drawValueTicks(g, 'right', box.x1, yP, pressureMajorTicks, pressureMinorTicks, pressureMajorTicks.map(String), 'pressure-axis');
})();

// Humidity panel
(function () {
  const g = document.getElementById('panel-rh');
  const box = {x0: 102.5, x1: 430, y0: 532.3, y1: 860};
  const x = linear(0, 7, box.x0, box.x1);
  const yH = linear(0, 100, 860, 532.3);
  const yR = linear(0, 3, 860, 551.3);
  const rh = make(g, 'path', {d: linePath(humidityTimes, humidityValues, x, yH), fill: 'none', stroke: '#94cc50', 'stroke-width': 5, 'stroke-linejoin': 'round', 'stroke-linecap': 'round'});
  
  
  drawGrid(g, box, humidityMajorTicks, yH, false);
  const rain = make(g, 'path', {d: linePath(rainTimes, rainValues, x, yR), fill: 'none', stroke: '#47b549', 'stroke-width': 11.5, 'stroke-linejoin': 'round', 'stroke-linecap': 'round'});
  
  
  const frame = make(g, 'g', {});
  
  
  drawFrame(frame, box);
  drawTimeAxis(g, box, x);
  drawValueTicks(g, 'left', box.x0, yH, humidityMajorTicks, humidityMinorTicks, humidityMajorTicks.map(String), 'humidity-axis');
  drawValueTicks(g, 'right', box.x1, yR, rainMajorTicks, rainMinorTicks, rainMajorTicks.map(v => v.toFixed(1)), 'rainfall-axis');
})();

// Direction panel
(function () {
  const g = document.getElementById('panel-dir');
  const box = {x0: 614.3, x1: 942.3, y0: 532.3, y1: 860};
  const x = linear(0, 7, box.x0, box.x1);
  const yD = linear(0, 360, 860, 532.3);
  directionBySpeed.forEach((pts, bin) => {
    const layer = make(g, 'g', {fill: speedColors[bin]});
    
    
    pts.forEach(p => {
      const c = make(layer, 'circle', {cx: x(p[0]).toFixed(2), cy: yD(p[1]).toFixed(2), r: 3});
      
      
    });
  });
  drawGrid(g, box, compassDegrees, yD, true);
  drawFrame(g, box);
  drawTimeAxis(g, box, x);
  drawValueTicks(g, 'left', box.x0, yD, compassDegrees, [], compassLabels, 'direction-axis');
  drawValueTicks(g, 'right', box.x1, yD, compassDegrees, [], null, 'direction-axis-right');

  const bar = document.getElementById('colorbar');
  const top = 594, bottom = 819, h = (bottom - top) / speedLabels.length;
  speedLabels.forEach((lab, bin) => {
    const row = speedLabels.length - 1 - bin;
    const r = make(bar, 'rect', {x: 953, y: (top + row * h).toFixed(2), width: 30, height: (h + 0.3).toFixed(2), fill: speedColors[bin]});
    
    
    const t = make(bar, 'text', {x: 1007.5, y: (top + row * h + h / 2 + 5.5).toFixed(2), 'font-size': 16.5, 'text-anchor': 'middle'}, lab);
    
    
  });
})();
</script>
</body>
</html>
